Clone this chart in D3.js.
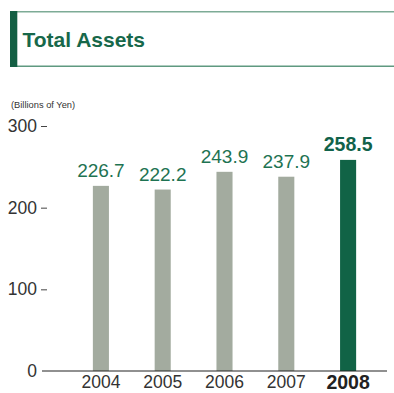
<!DOCTYPE html>
<html>
<head>
<meta charset="utf-8">
<script src="https://cdn.jsdelivr.net/npm/d3@7"></script>
<style>
  html, body { margin: 0; padding: 0; background: #fff; }
  svg { display: block; font-family: "Liberation Sans", Arial, Helvetica, sans-serif; }
</style>
</head>
<body>
<svg id="chart" width="394" height="393"></svg>
<script>
// Total assets by fiscal year (billions of yen)
const years = ["2004", "2005", "2006", "2007", "2008"];
const assets = [226.7, 222.2, 243.9, 237.9, 258.5];
const yTicks = [0, 100, 200, 300];
const highlightYear = "2008";

const svg = d3.select("#chart");

// Header panel
svg.append("line").attr("x1", 10).attr("x2", 394).attr("y1", 11.7).attr("y2", 11.7)
  .attr("stroke", "#7dab96").attr("stroke-width", 1.5);
svg.append("line").attr("x1", 17).attr("x2", 394).attr("y1", 66.3).attr("y2", 66.3)
  .attr("stroke", "#5f9980").attr("stroke-width", 1.5);
svg.append("rect").attr("x", 10).attr("y", 11).attr("width", 7.3).attr("height", 56)
  .attr("fill", "#135f43");
svg.append("text").attr("x", 22.5).attr("y", 46.5)
  .attr("font-size", 21).attr("font-weight", "bold").attr("fill", "#17684a")
  .text("Total Assets");

// Scales
const x = d3.scaleBand().domain(years).range([70, 379])
  .paddingInner(0.74).paddingOuter(0.37);
const y = d3.scaleLinear().domain([0, 300]).range([371, 126]);

// Unit label
svg.append("text").attr("x", 11).attr("y", 108)
  .attr("font-size", 9.3).attr("fill", "#333").text("(Billions of Yen)");

// Y axis: short dash ticks with labels
const yAxis = svg.append("g").attr("transform", "translate(47,0)")
  .call(d3.axisLeft(y).tickValues(yTicks).tickSize(6).tickPadding(4).tickFormat(d3.format("d")));
yAxis.select(".domain").remove();
yAxis.selectAll(".tick line").attr("stroke", "#444").attr("stroke-width", 1);
yAxis.selectAll(".tick text").attr("font-size", 17.5).attr("fill", "#333")
  .attr("font-family", "Liberation Sans, Arial, sans-serif");
yAxis.selectAll(".tick").filter(d => d === 0).select("line").remove();

// Bars
svg.append("g").selectAll("rect").data(years).join("rect")
  .attr("x", d => x(d))
  .attr("y", (d, i) => y(assets[i]))
  .attr("width", x.bandwidth())
  .attr("height", (d, i) => y(0) - y(assets[i]))
  .attr("fill", d => d === highlightYear ? "#116346" : "#a3ab9f");

// Value labels
svg.append("g").selectAll("text").data(years).join("text")
  .attr("x", d => x(d) + x.bandwidth() / 2)
  .attr("y", (d, i) => y(assets[i]) - 9)
  .attr("text-anchor", "middle")
  .attr("font-size", d => d === highlightYear ? 19.5 : 19)
  .attr("font-weight", d => d === highlightYear ? "bold" : "normal")
  .attr("fill", d => d === highlightYear ? "#11624a" : "#1e7352")
  .text((d, i) => assets[i].toFixed(1));

// Baseline
svg.append("line").attr("x1", 42).attr("x2", 387).attr("y1", y(0)).attr("y2", y(0))
  .attr("stroke", "#222").attr("stroke-width", 1.2);

// X axis labels
const xAxis = svg.append("g").attr("transform", `translate(0,${y(0)})`)
  .call(d3.axisBottom(x).tickSize(0).tickPadding(4.5));
xAxis.select(".domain").remove();
xAxis.selectAll(".tick text")
  .attr("font-size", d => d === highlightYear ? 19.5 : 17.5)
  .attr("font-weight", d => d === highlightYear ? "bold" : "normal")
  .attr("fill", d => d === highlightYear ? "#222" : "#333")
  .attr("font-family", "Liberation Sans, Arial, sans-serif");
</script>
</body>
</html>
